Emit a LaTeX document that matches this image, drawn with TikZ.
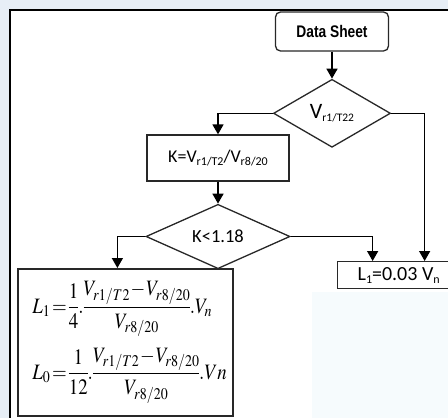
\documentclass[tikz,border=0pt]{standalone}
\usepackage{mathptmx}
\usepackage[no-math]{fontspec}
\setmainfont{Carlito}
\newfontfamily\narrowsans[FakeStretch=0.82]{Liberation Sans}
\usetikzlibrary{positioning,shapes.geometric,arrows.meta}
\definecolor{pagebg}{RGB}{231,238,246}
\definecolor{boxline}{RGB}{40,40,40}
\definecolor{hazefill}{RGB}{246,251,253}
% small lowered index for the box texts
\newcommand{\lowidx}[2][12]{\raisebox{-0.3ex}{\fontsize{#1}{#1}\selectfont #2}}
\newcommand{\tightmath}{\thickmuskip=2mu \medmuskip=1mu \nulldelimiterspace=0pt \scriptspace=0pt}

\begin{document}
\begin{tikzpicture}[x=1pt,y=-1pt,
	sheetbox/.style={draw=boxline, line width=1.3pt, rounded corners=5pt, minimum width=113pt, minimum height=39pt, inner sep=0pt, font=\narrowsans\bfseries\fontsize{16.8}{20}\selectfont},
	procbox/.style={draw=boxline, line width=1.3pt, minimum width=142pt, minimum height=46pt, inner sep=0pt, font=\fontsize{18}{22}\selectfont},
	testbox/.style={diamond, draw=boxline, line width=1.3pt, inner sep=0pt, font=\fontsize{18.5}{22}\selectfont},
	resultbox/.style={draw=boxline, line width=1.8pt, inner xsep=0pt, inner ysep=0pt, text width=186pt, align=left, font=\fontsize{22}{26}\selectfont},
	flow/.style={line width=1.5pt, -{Triangle[length=10pt,width=11pt]}}]
	\fill[pagebg] (0,0) rectangle (448,418);
	\useasboundingbox (0,0) rectangle (448,418);
	\clip (0,0) rectangle (448,418);
	\fill[white] (10,10) rectangle (470,440);
	\fill[hazefill] (312,292) rectangle (448,418);
	\draw[line width=2.5pt] (10,10) rectangle (470,440);

	\node[sheetbox] (ds) at (332,31.5) {Data Sheet};
	\node[testbox, minimum width=117pt, minimum height=68pt, below=27pt of ds] (vtest) {\fontsize{22}{24}\selectfont V\lowidx[11.5]{r1/T22}};
	\node[procbox] (kcalc) at (218,158) {K=V\lowidx{r1/T2}/V\lowidx{r8/20}};
	\node[testbox, minimum width=144pt, minimum height=61pt, below=22pt of kcalc] (ktest) {K<1.18};
	\node[resultbox, anchor=north west, minimum width=215pt, minimum height=147pt] (lgap) at (17,268)
		{\tightmath
		 \scalebox{0.86}[1]{$\displaystyle L_1=\frac{1}{4}.\frac{V_{r1/T2}-V_{r8/20}}{V_{r8/20}}.V_n$}\\[10pt]
		 \scalebox{0.86}[1]{$\displaystyle L_0=\frac{1}{12}.\frac{V_{r1/T2}-V_{r8/20}}{V_{r8/20}}.Vn$}\par\vspace{-12pt}};
	\node[procbox, anchor=north west, minimum width=122pt, minimum height=27pt, font=\fontsize{20}{22}\selectfont] (lfix) at (337,261) {L\lowidx{1}=0.03 V\lowidx{n}};

	\draw[flow] (ds) -- (vtest);
	\draw[flow] (vtest.west) -| (kcalc.north);
	\draw[flow] (vtest.east) -| ([xshift=26pt]lfix.north);
	\draw[flow] (kcalc) -- (ktest);
	\draw[flow] (ktest.west) -| ([xshift=-8pt]lgap.north);
	\draw[flow] (ktest.east) -| ([xshift=-26pt]lfix.north);
\end{tikzpicture}
\end{document}
